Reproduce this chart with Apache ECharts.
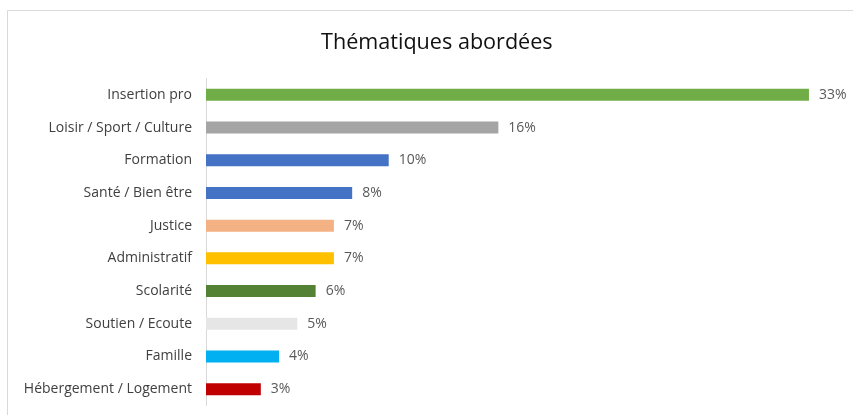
<!DOCTYPE html>
<html><head><meta charset="utf-8">
<script src="https://cdn.jsdelivr.net/npm/echarts@6/dist/echarts.min.js"></script>
<style>html,body{margin:0;padding:0;background:#fff}#c{width:853px;height:415px}</style>
</head><body><div id="c"></div>
<script>
const categories = ["Insertion pro","Loisir / Sport / Culture","Formation","Santé / Bien être","Justice","Administratif","Scolarité","Soutien / Ecoute","Famille","Hébergement / Logement"];
const values = [33,16,10,8,7,7,6,5,4,3];
const colors = ["#70AD47","#A5A5A5","#4472C4","#4472C4","#F4B183","#FFC000","#548235","#E7E6E6","#00B0F0","#C00000"];
const title = "Thématiques abordées";

const chart = echarts.init(document.getElementById('c'), null, {renderer:'canvas'});
chart.setOption({
  animation:false,
  backgroundColor:'#fff',
  graphic:[{type:'rect',shape:{x:7.5,y:10.5,width:900,height:500},style:{fill:'none',stroke:'#d9d9d9',lineWidth:1},silent:true}],
  title:{text:title,left:316,top:27,textStyle:{fontFamily:'Open Sans',fontSize:21.6,fontWeight:'normal',color:'#111'}},
  grid:{left:206,top:78.5,width:639.5,height:327,containLabel:false},
  xAxis:{type:'value',min:0,max:35,show:false},
  yAxis:{type:'category',data:categories,inverse:true,
    axisLine:{show:true,lineStyle:{color:'#d9d9d9',width:1}},
    axisTick:{show:false},
    axisLabel:{margin:14,fontFamily:'Open Sans',fontSize:14,color:'#404040'}},
  series:[{type:'bar',barWidth:12,
    data:values.map((v,i)=>({value:v,itemStyle:{color:colors[i]}})),
    label:{show:true,position:'right',distance:10,formatter:p=>p.value+'%',fontFamily:'Open Sans',fontSize:14,color:'#595959'}}]
});
</script></body></html>
